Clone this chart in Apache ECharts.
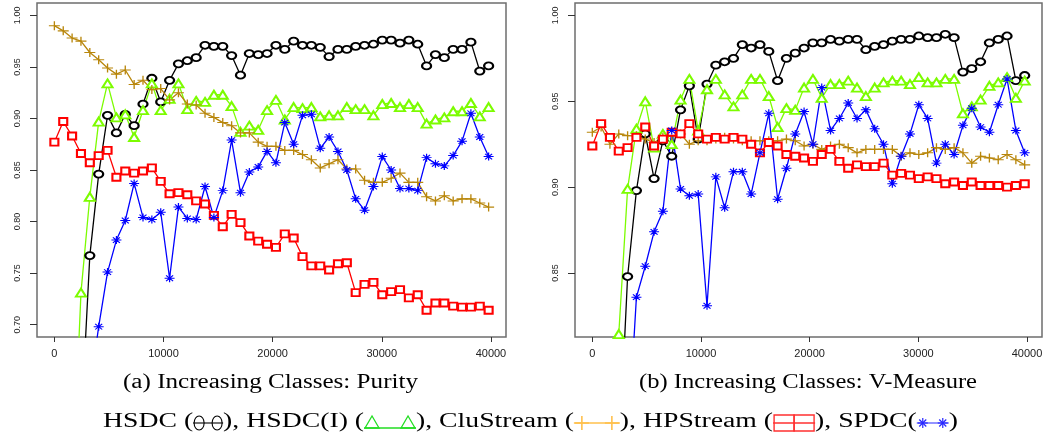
<!DOCTYPE html>
<html><head><meta charset="utf-8">
<script src="https://cdn.jsdelivr.net/npm/echarts@6/dist/echarts.min.js"></script>
<style>html,body{margin:0;padding:0;background:#fff}#c{width:1049px;height:441px}</style>
</head><body><div id="c"></div>
<script>
// ---------- data ----------
const sampleX = [0,812,1624,2436,3248,4060,4872,5684,6496,7308,8120,8932,9744,10556,11368,12180,12992,13804,14616,15428,16240,17052,17864,18676,19488,20300,21112,21924,22736,23548,24360,25172,25984,26796,27608,28420,29232,30044,30856,31668,32480,33292,34104,34916,35728,36540,37352,38164,38976,39788];
const xTicks = [0,10000,20000,30000,40000];
const purityTicks = [0.70,0.75,0.80,0.85,0.90,0.95,1.00];
const vmTicks = [0.85,0.90,0.95,1.00];
const seriesNames = ['HSDC','HSDC(I)','CluStream','HPStream','SPDC'];
const captionA = '(a) Increasing Classes: Purity';
const captionB = '(b) Increasing Classes: V-Measure';

// Panel (a): Purity
const purityHSDC = [0.45,0.50,0.55,0.60,0.767,0.846,0.903,0.886,0.904,0.893,0.914,0.939,0.916,0.937,0.953,0.956,0.959,0.971,0.970,0.970,0.961,0.942,0.963,0.962,0.963,0.971,0.967,0.975,0.971,0.971,0.969,0.960,0.967,0.967,0.970,0.971,0.972,0.976,0.976,0.973,0.976,0.972,0.951,0.962,0.959,0.967,0.967,0.974,0.946,0.951];
const purityHSDCI = [0.45,0.50,0.53,0.731,0.824,0.897,0.934,0.901,0.904,0.882,0.908,0.934,0.908,0.919,0.934,0.909,0.917,0.916,0.923,0.923,0.912,0.887,0.893,0.889,0.908,0.918,0.899,0.911,0.910,0.911,0.902,0.903,0.903,0.911,0.909,0.909,0.903,0.914,0.915,0.911,0.914,0.911,0.895,0.899,0.901,0.907,0.907,0.915,0.902,0.911];
const purityCluStream = [0.990,0.985,0.978,0.975,0.964,0.957,0.949,0.943,0.947,0.933,0.937,0.928,0.929,0.918,0.925,0.914,0.913,0.905,0.901,0.896,0.893,0.886,0.886,0.877,0.873,0.873,0.869,0.869,0.865,0.860,0.852,0.856,0.860,0.851,0.851,0.840,0.838,0.838,0.842,0.847,0.838,0.838,0.824,0.820,0.825,0.820,0.822,0.822,0.818,0.814];
const purityHPStream = [0.877,0.897,0.883,0.866,0.857,0.864,0.869,0.843,0.849,0.847,0.849,0.852,0.839,0.827,0.828,0.826,0.820,0.817,0.806,0.795,0.807,0.799,0.786,0.781,0.778,0.775,0.788,0.784,0.766,0.757,0.757,0.753,0.759,0.760,0.731,0.739,0.741,0.729,0.732,0.734,0.726,0.729,0.714,0.721,0.721,0.718,0.717,0.717,0.718,0.714];
const puritySPDC = [0.50,0.55,0.58,0.60,0.637,0.698,0.751,0.782,0.801,0.837,0.804,0.802,0.809,0.745,0.814,0.803,0.802,0.834,0.804,0.830,0.879,0.828,0.848,0.853,0.868,0.857,0.896,0.875,0.903,0.904,0.871,0.882,0.868,0.850,0.822,0.811,0.834,0.863,0.850,0.832,0.832,0.830,0.862,0.856,0.854,0.864,0.878,0.905,0.882,0.863];

// Panel (b): V-Measure
const vmHSDC = [0.60,0.65,0.70,0.74,0.848,0.898,0.931,0.905,0.927,0.918,0.945,0.959,0.928,0.960,0.971,0.973,0.975,0.983,0.981,0.983,0.979,0.962,0.975,0.978,0.981,0.984,0.984,0.986,0.985,0.986,0.986,0.980,0.982,0.983,0.985,0.986,0.986,0.988,0.987,0.987,0.989,0.987,0.967,0.969,0.973,0.984,0.986,0.988,0.962,0.965];
const vmHSDCI = [0.60,0.65,0.70,0.8145,0.899,0.934,0.950,0.923,0.931,0.925,0.951,0.963,0.933,0.957,0.963,0.954,0.947,0.954,0.963,0.963,0.953,0.935,0.946,0.945,0.958,0.963,0.952,0.960,0.960,0.962,0.958,0.953,0.958,0.961,0.962,0.962,0.960,0.964,0.961,0.961,0.963,0.963,0.943,0.947,0.951,0.959,0.961,0.964,0.952,0.962];
const vmCluStream = [0.932,0.935,0.925,0.931,0.930,0.930,0.928,0.926,0.929,0.930,0.931,0.925,0.927,0.927,0.928,0.929,0.928,0.927,0.927,0.927,0.927,0.927,0.928,0.927,0.924,0.925,0.922,0.924,0.925,0.923,0.920,0.922,0.922,0.922,0.922,0.918,0.920,0.919,0.920,0.923,0.922,0.923,0.920,0.914,0.918,0.917,0.916,0.919,0.916,0.913];
const vmHPStream = [0.924,0.937,0.929,0.921,0.923,0.929,0.935,0.924,0.928,0.932,0.931,0.937,0.931,0.928,0.929,0.928,0.929,0.928,0.925,0.920,0.926,0.924,0.919,0.918,0.917,0.915,0.919,0.922,0.915,0.911,0.913,0.912,0.912,0.914,0.907,0.908,0.907,0.905,0.906,0.905,0.902,0.903,0.901,0.903,0.901,0.901,0.901,0.900,0.901,0.902];
const vmSPDC = [0.60,0.65,0.70,0.72,0.749,0.836,0.854,0.874,0.886,0.933,0.899,0.895,0.896,0.831,0.906,0.888,0.909,0.909,0.896,0.920,0.943,0.893,0.911,0.931,0.944,0.925,0.958,0.933,0.940,0.949,0.940,0.945,0.934,0.925,0.902,0.918,0.931,0.948,0.940,0.914,0.925,0.919,0.936,0.946,0.935,0.932,0.948,0.963,0.933,0.920];

// ---------- styling ----------
const SERIF = 'Liberation Serif';
const SANS = 'Liberation Sans';
const marks = [
  {color:'#000000', symbol:'emptyCircle', size:[9,7], bw:1},
  {color:'#7CFC00', symbol:'emptyTriangle', size:[10,8], bw:1.1},
  {color:'#B8860B', symbol:'path://M0,5L10,5M5,0L5,10', size:[11,9], bw:1.2},
  {color:'#FF0000', symbol:'emptyRect', size:[8,7], bw:1.1},
  {color:'#0000FF', symbol:'path://M0,5L10,5M5,0L5,10M1.5,1.5L8.5,8.5M8.5,1.5L1.5,8.5', size:[10,8], bw:1.1}
];

function pairs(ys){ return ys.map((y,i)=>[sampleX[i], y]); }
function mkSeries(k, ys, idx){
  const m = marks[k];
  return {
    type:'line', name: seriesNames[k], data: pairs(ys),
    xAxisIndex: idx, yAxisIndex: idx,
    symbol: m.symbol, symbolSize: m.size, showAllSymbol: true, clip: true,
    lineStyle:{color:m.color, width:1.3},
    itemStyle:{color:m.color, borderColor:m.color, borderWidth:m.bw},
    emphasis:{disabled:true}, silent:true, animation:false
  };
}
function mkX(idx){
  return {type:'value', gridIndex:idx, min:-1592, max:41380,
    axisLine:{show:false, onZero:false}, splitLine:{show:false},
    axisTick:{show:true, inside:false, customValues:xTicks, length:5, lineStyle:{color:'#333', width:1}},
    axisLabel:{customValues:xTicks, formatter:v=>String(v), fontSize:11, fontFamily:SANS, color:'#222', margin:11}};
}
function mkY(idx, min, max, ticks){
  return {type:'value', gridIndex:idx, min:min, max:max,
    axisLine:{show:false, onZero:false}, splitLine:{show:false},
    axisTick:{show:true, inside:false, customValues:ticks, length:7, lineStyle:{color:'#333', width:1}},
    axisLabel:{customValues:ticks, formatter:v=>v.toFixed(2), rotate:90, fontSize:9, fontFamily:SANS, color:'#222', margin:15, hideOverlap:false}};
}

// ---------- caption / legend text (graphic) ----------
const mctx = document.createElement('canvas').getContext('2d');
function measure(t, fs){ mctx.font = fs + 'px "' + SERIF + '"'; return mctx.measureText(t).width; }
const graphics = [];
function fitText(t, cx, cy, targetW, fs){
  const w = measure(t, fs);
  const sx = targetW / w;
  graphics.push({type:'text', x: cx - targetW/2, y: cy, scaleX: sx, silent:true,
    style:{text:t, fontSize:fs, fontFamily:SERIF, fill:'#000', align:'left', verticalAlign:'middle'}});
}
fitText(captionA, 270.5, 383, 295, 20);
fitText(captionB, 808, 383, 338, 20);

const legendTexts = ['HSDC (', '), HSDC(I) (', '), CluStream (', '), HPStream (', '), SPDC(', ')'];
const sampleW = [30, 52, 46, 42, 32];
const legendColors = ['#000000', '#22DD22', '#FFC04D', '#FF3030', '#2828FF'];
function ln(x1,y1,x2,y2,c,w){ graphics.push({type:'line', silent:true, shape:{x1,y1,x2,y2}, style:{stroke:c, lineWidth:w||1.2}}); }
function drawSample(k, x, y, w){
  const c = legendColors[k];
  if (k === 0){
    ln(x, y, x+w, y, c, 1.1);
    [x+6, x+w-6].forEach(cx => graphics.push({type:'ellipse', silent:true, shape:{cx:cx, cy:y, rx:5, ry:7}, style:{stroke:c, fill:'none', lineWidth:1.1}}));
  } else if (k === 1){
    const by = y + 5;
    ln(x, by, x+w, by, c, 1.3);
    [x+8, x+w-8].forEach(cx => graphics.push({type:'polygon', silent:true, shape:{points:[[cx-7,by],[cx+7,by],[cx,by-12]]}, style:{stroke:c, fill:'none', lineWidth:1.3}}));
  } else if (k === 2){
    ln(x, y, x+w, y, c, 1.6);
    [x+8, x+w-8].forEach(cx => { ln(cx-7, y, cx+7, y, c, 1.6); ln(cx, y-7, cx, y+7, c, 1.6); });
  } else if (k === 3){
    ln(x, y, x+w, y, c, 1.4);
    const sq = w/2 - 1;
    [x+1, x+w/2].forEach(sxp => graphics.push({type:'rect', silent:true, shape:{x:sxp, y:y-8, width:sq, height:16}, style:{stroke:c, fill:'none', lineWidth:1.4}}));
  } else {
    ln(x, y, x+w, y, c, 1.2);
    [x+6, x+w-6].forEach(cx => { ln(cx-5,y,cx+5,y,c,1.2); ln(cx,y-5,cx,y+5,c,1.2); ln(cx-3.5,y-3.5,cx+3.5,y+3.5,c,1.2); ln(cx+3.5,y-3.5,cx-3.5,y+3.5,c,1.2); });
  }
}
(function buildLegend(){
  const fs = 20, y = 422, x0 = 103, total = 855;
  let tw = 0; legendTexts.forEach(t => tw += measure(t, fs));
  const sw = sampleW.reduce((a,b)=>a+b, 0);
  const sx = (total - sw) / tw;
  let cur = x0;
  for (let i = 0; i < legendTexts.length; i++){
    const t = legendTexts[i];
    graphics.push({type:'text', x: cur, y: y, scaleX: sx, silent:true,
      style:{text:t, fontSize:fs, fontFamily:SERIF, fill:'#000', align:'left', verticalAlign:'middle'}});
    cur += measure(t, fs) * sx;
    if (i < sampleW.length){
      drawSample(i, cur, y + 1, sampleW[i]);
      cur += sampleW[i];
    }
  }
})();

// ---------- chart ----------
const chart = echarts.init(document.getElementById('c'), null, {renderer:'canvas'});
const gridStyle = {show:true, borderColor:'#6e6e6e', borderWidth:1.5, backgroundColor:'transparent', containLabel:false};
chart.setOption({
  backgroundColor:'#ffffff',
  animation:false,
  grid:[
    Object.assign({left:37, top:3, width:469, height:334}, gridStyle),
    Object.assign({left:575, top:3, width:467, height:334}, gridStyle)
  ],
  xAxis:[mkX(0), mkX(1)],
  yAxis:[mkY(0, 0.688, 1.012, purityTicks), mkY(1, 0.8128, 1.0072, vmTicks)],
  series:[
    mkSeries(0, purityHSDC, 0), mkSeries(1, purityHSDCI, 0), mkSeries(2, purityCluStream, 0), mkSeries(3, purityHPStream, 0), mkSeries(4, puritySPDC, 0),
    mkSeries(0, vmHSDC, 1), mkSeries(1, vmHSDCI, 1), mkSeries(2, vmCluStream, 1), mkSeries(3, vmHPStream, 1), mkSeries(4, vmSPDC, 1)
  ],
  graphic: graphics
});
</script></body></html>
